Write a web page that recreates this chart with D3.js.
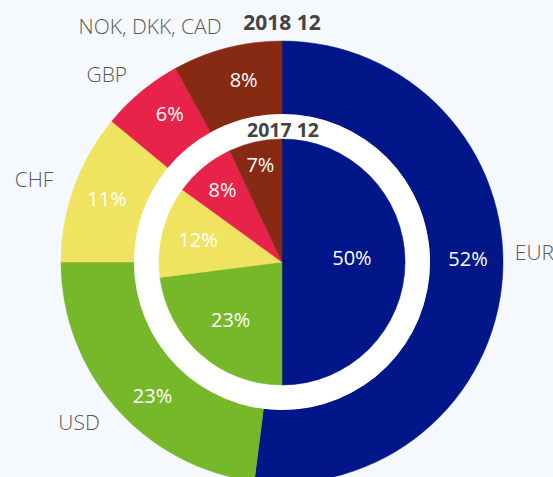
<!DOCTYPE html>
<html>
<head>
<meta charset="utf-8">
<script src="https://cdn.jsdelivr.net/npm/d3@7"></script>
<style>
  html, body { margin: 0; padding: 0; background: #f5f9fd; }
  svg { display: block; font-family: "Open Sans", "Noto Sans", sans-serif; }
</style>
</head>
<body>
<svg width="553" height="477"></svg>
<script>
"use strict";

// currency shares, outer ring = 2018 12, inner pie = 2017 12
var currencies = ["EUR", "USD", "CHF", "GBP", "NOK, DKK, CAD"];
var share2018 = [52, 23, 11, 6, 8];
var share2017 = [50, 23, 12, 8, 7];
var seriesTitles = ["2018 12", "2017 12"];

var colors = ["#001689", "#76b82a", "#efe35f", "#e7234a", "#862a14"];

window.onload = renderMyChart;

function renderMyChart() {
    var svg = d3.select("svg"),
        cx = 282, cy = 262,
        outerR = 221, gapR = 148, innerR = 123;

    var g = svg.append("g")
        .attr("transform", "translate(" + cx + "," + cy + ")");

    var color = d3.scaleOrdinal().domain(currencies).range(colors);

    var pie = d3.pie().sort(null).value(function (d) { return d.value; });

    function rows(values) {
        return currencies.map(function (c, i) { return { name: c, value: values[i] }; });
    }

    function mid(d) { return (d.startAngle + d.endAngle) / 2; }
    function polar(a, r) { return [Math.sin(a) * r, -Math.cos(a) * r]; }
    var deg = Math.PI / 180;

    var outerArcs = pie(rows(share2018)),
        innerArcs = pie(rows(share2017));

    var outerArc = d3.arc().innerRadius(gapR).outerRadius(outerR),
        innerArc = d3.arc().innerRadius(0).outerRadius(innerR);

    // outer ring
    g.selectAll(".outer")
        .data(outerArcs)
        .enter().append("path")
        .attr("class", "outer")
        .attr("d", outerArc)
        .attr("fill", function (d) { return color(d.data.name); })
        .attr("stroke", function (d) { return color(d.data.name); })
        .attr("stroke-width", 0.5);

    // white ring between the two
    g.append("circle").attr("r", gapR).attr("fill", "#ffffff");

    // inner pie
    g.selectAll(".inner")
        .data(innerArcs)
        .enter().append("path")
        .attr("class", "inner")
        .attr("d", innerArc)
        .attr("fill", function (d) { return color(d.data.name); })
        .attr("stroke", function (d) { return color(d.data.name); })
        .attr("stroke-width", 0.5);

    // percentage labels, outer ring
    g.selectAll(".outer-label")
        .data(outerArcs)
        .enter().append("text")
        .attr("class", "outer-label")
        .attr("transform", function (d) {
            var a = mid(d);
            if (a > 80 * deg && a < 270 * deg) a -= 4.5 * deg;
            if (a > 300 * deg) a += 2.5 * deg;
            return "translate(" + polar(a, 186) + ")";
        })
        .attr("text-anchor", "middle")
        .attr("dy", "0.35em")
        .attr("fill", "#ffffff")
        .style("font-size", "20px")
        .text(function (d) { return d.data.value + "%"; });

    // percentage labels, inner pie
    g.selectAll(".inner-label")
        .data(innerArcs)
        .enter().append("text")
        .attr("class", "inner-label")
        .attr("transform", function (d) {
            var a = mid(d),
                t = (a / deg - 90) / 257,
                r = 70 + 29 * t * t;
            if (a < Math.PI) a -= 3 * deg;
            return "translate(" + polar(a, r) + ")";
        })
        .attr("text-anchor", "middle")
        .attr("dy", "0.35em")
        .attr("fill", "#ffffff")
        .style("font-size", "20px")
        .text(function (d) { return d.data.value + "%"; });

    // currency names outside the ring
    g.selectAll(".name")
        .data(outerArcs)
        .enter().append("text")
        .attr("class", "name")
        .attr("transform", function (d) {
            var a = mid(d), r = 243;
            if (a < Math.PI) { a -= 6 * deg; r = 233; }
            return "translate(" + polar(a, r) + ")";
        })
        .attr("text-anchor", function (d) { return mid(d) < Math.PI ? "start" : "end"; })
        .attr("dy", "0.35em")
        .attr("fill", "#595959")
        .style("font-size", "21px")
        .style("font-weight", 300)
        .text(function (d) { return d.data.name; });

    // series titles
    svg.append("text")
        .attr("x", cx).attr("y", 30)
        .attr("text-anchor", "middle")
        .attr("fill", "#444444")
        .style("font-size", "21px")
        .style("font-weight", "bold")
        .text(seriesTitles[0]);

    svg.append("text")
        .attr("x", cx + 1).attr("y", 137)
        .attr("text-anchor", "middle")
        .attr("fill", "#444444")
        .style("font-size", "19.5px")
        .style("font-weight", "bold")
        .text(seriesTitles[1]);
}
</script>
</body>
</html>
